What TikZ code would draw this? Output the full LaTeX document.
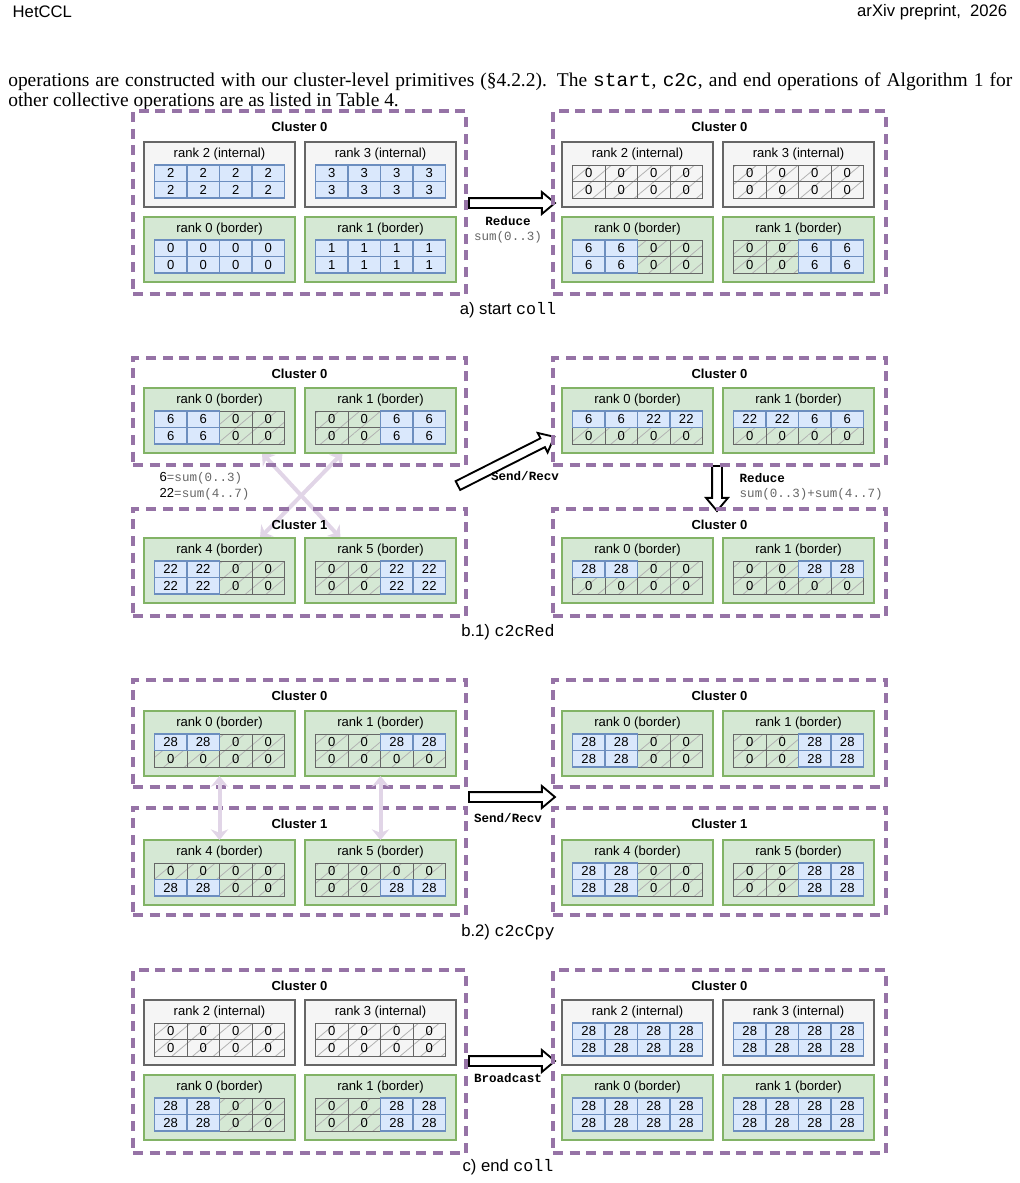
\documentclass[tikz,border=0pt]{standalone}
\usepackage{fontspec}
\setmainfont{Liberation Serif}
\setsansfont{Liberation Sans}
\setmonofont{Liberation Mono}
\usetikzlibrary{arrows.meta,calc,shapes.arrows,patterns.meta,backgrounds}
\definecolor{cluline}{HTML}{9673A6}
\definecolor{ingray}{HTML}{666666}
\definecolor{inbg}{HTML}{F5F5F5}
\definecolor{bdgreen}{HTML}{82B366}
\definecolor{bdbg}{HTML}{D5E8D4}
\definecolor{cellblue}{HTML}{6C8EBF}
\definecolor{cellbg}{HTML}{DAE8FC}
\definecolor{xferpurple}{HTML}{E1D5E7}
\def\pxu{0.75pt}
\def\zz{z}
% one row of four buffer cells, z = empty (hatched 0)
\newcommand{\cellrow}[4]{%
  \foreach \val [count=\cn] in {#4}{%
    \edef\cval{\val}%
    \ifx\cval\zz
      \if z#3\node[zcell] (#1-#2\cn) at ($(#1.north west)+(32.5*\cn-5.75,16.5*#2+14.75)$) {0};\fi
    \else
      \if b#3\node[bcell] (#1-#2\cn) at ($(#1.north west)+(32.5*\cn-5.75,16.5*#2+14.75)$) {\val};\fi
    \fi}}
% rank box with title and 2x4 buffer
\newcommand{\rk}[6]{%
  \node[#2] (#1) at #3 {};
  \node[rlbl] (#1-t) at ($(#1.north)+(0,12)$) {#4};
  \cellrow{#1}{1}{z}{#5}\cellrow{#1}{2}{z}{#6}%
  \cellrow{#1}{1}{b}{#5}\cellrow{#1}{2}{b}{#6}}
% dashed cluster frame with title
\newcommand{\clu}[4]{%
  \node[#2] (#1) at #3 {};
  \node[cltitle] (#1-t) at ($(#1.north)+(0,15.5)$) {#4};}
\tikzset{
  clu/.style    ={draw=cluline, dash pattern=on 7.5pt off 5pt, line width=2.4pt,
                  minimum width=333*\pxu, inner sep=0pt, outer sep=0pt,
                  anchor=north west},
  cluT/.style   ={clu, minimum height=183*\pxu},
  cluS/.style   ={clu, minimum height=107*\pxu},
  cltitle/.style={font=\sffamily\bfseries\fontsize{9.8}{11}\selectfont},
  rbox/.style   ={line width=1.5pt, minimum width=151*\pxu,
                  minimum height=65*\pxu, inner sep=0pt, outer sep=0pt,
                  anchor=north west},
  inbox/.style  ={rbox, draw=ingray, fill=inbg},
  bdbox/.style  ={rbox, draw=bdgreen, fill=bdbg},
  rlbl/.style   ={font=\sffamily\fontsize{9.8}{11}\selectfont},
  cell/.style   ={minimum width=32.5*\pxu, minimum height=16.5*\pxu,
                  inner sep=0pt, outer sep=0pt,
                  font=\sffamily\fontsize{9.8}{11}\selectfont},
  bcell/.style  ={cell, draw=cellblue, fill=cellbg, line width=1.3pt},
  zcell/.style  ={cell, draw=ingray, line width=0.7pt,
                  pattern={Lines[angle=40,distance=10pt,line width=0.6pt]},
                  pattern color=black!30},
  fatarr/.style ={single arrow, draw=black, fill=white, line width=1.4pt,
                  inner xsep=0pt, inner ysep=3pt, outer sep=0pt,
                  single arrow head extend=4.5pt, single arrow tip angle=80},
  xfer/.style   ={{Stealth[length=8pt,width=13pt]}-{Stealth[length=8pt,width=13pt]},
                  line width=3pt, xferpurple},
  oplbl/.style  ={font=\ttfamily\bfseries\fontsize{9.4}{11}\selectfont},
  sumlbl/.style ={font=\ttfamily\fontsize{9.4}{11}\selectfont, text=black!60},
  notelbl/.style={font=\sffamily\fontsize{9.8}{11}\selectfont},
  capt/.style   ={font=\sffamily\fontsize{12.5}{14}\selectfont},
  hdr/.style    ={font=\sffamily\fontsize{12.5}{14}\selectfont},
  para/.style   ={font=\fontsize{14.6}{12.4}\selectfont, text width=1004*\pxu,
                  align=justify, inner sep=0pt},
}
\begin{document}
\begin{tikzpicture}[x=0.75pt,y=-0.75pt]
  \useasboundingbox (0,0) rectangle (1020,1183);
  % ---- page header and running text
  \node[hdr, anchor=west] (hl) at (8,12) {HetCCL};
  \node[hdr, anchor=east] (hr) at (1012,12) {arXiv preprint,\ \ 2026};
  \node[para, anchor=north west] (par) at (8,73)
    {operations are constructed with our cluster-level primitives (§4.2.2).
     The \texttt{start}, \texttt{c2c}, and end operations of Algorithm 1
     for\linebreak other collective operations are as listed in Table 4.};
  % ---- a) start coll
  \node[fatarr, minimum height=86*\pxu] (aArr) at (509,203) {};
  \node[oplbl] (aOp) at (508,221) {Reduce};
  \node[sumlbl] (aSum) at (508,237) {sum(0..3)};
  \clu{aL}{cluT}{(133,111)}{Cluster 0}
  \rk{aL2}{inbox}{(144,142)}{rank 2 (internal)}{2,2,2,2}{2,2,2,2}
  \rk{aL3}{inbox}{(305,142)}{rank 3 (internal)}{3,3,3,3}{3,3,3,3}
  \rk{aL0}{bdbox}{(144,217)}{rank 0 (border)}{0,0,0,0}{0,0,0,0}
  \rk{aL1}{bdbox}{(305,217)}{rank 1 (border)}{1,1,1,1}{1,1,1,1}
  \clu{aR}{cluT}{(553,111)}{Cluster 0}
  \rk{aR2}{inbox}{(562,142)}{rank 2 (internal)}{z,z,z,z}{z,z,z,z}
  \rk{aR3}{inbox}{(723,142)}{rank 3 (internal)}{z,z,z,z}{z,z,z,z}
  \rk{aR0}{bdbox}{(562,217)}{rank 0 (border)}{6,6,z,z}{6,6,z,z}
  \rk{aR1}{bdbox}{(723,217)}{rank 1 (border)}{z,z,6,6}{z,z,6,6}
  \node[capt] (aCap) at (508,310) {a) start \texttt{coll}};
  % ---- b.1) c2cRed
  \node[fatarr, minimum height=108*\pxu, rotate=26.8] (b1Arr) at (503.5,462.5) {};
  \node[oplbl] (b1Op) at (525,476) {Send/Recv};
  \node[fatarr, minimum height=45*\pxu, rotate=-90] (b1Red) at (717,485.5) {};
  \node[oplbl, anchor=west] (b1Op2) at (735,478) {Reduce};
  \node[sumlbl, anchor=west] (b1Sum) at (735,494) {sum(0..3)+sum(4..7)};
  \clu{b1L}{cluS}{(133,358)}{Cluster 0}
  \rk{b1L0}{bdbox}{(144,388)}{rank 0 (border)}{6,6,z,z}{6,6,z,z}
  \rk{b1L1}{bdbox}{(305,388)}{rank 1 (border)}{z,z,6,6}{z,z,6,6}
  \clu{b1D}{cluS}{(133,509)}{Cluster 1}
  \rk{b1D4}{bdbox}{(144,538)}{rank 4 (border)}{22,22,z,z}{22,22,z,z}
  \rk{b1D5}{bdbox}{(305,538)}{rank 5 (border)}{z,z,22,22}{z,z,22,22}
  \clu{b1R}{cluS}{(553,358)}{Cluster 0}
  \rk{b1R0}{bdbox}{(562,388)}{rank 0 (border)}{6,6,22,22}{z,z,z,z}
  \rk{b1R1}{bdbox}{(723,388)}{rank 1 (border)}{22,22,6,6}{z,z,z,z}
  \clu{b1S}{cluS}{(553,509)}{Cluster 0}
  \rk{b1S0}{bdbox}{(562,538)}{rank 0 (border)}{28,28,z,z}{z,z,z,z}
  \rk{b1S1}{bdbox}{(723,538)}{rank 1 (border)}{z,z,28,28}{z,z,z,z}
  \begin{pgfonlayer}{background}
  \draw[xfer] ([xshift=42.5*\pxu]b1L0.south) -- ([xshift=-40*\pxu]b1D5.north);
  \draw[xfer] ([xshift=-38*\pxu]b1L1.south) -- ([xshift=40.5*\pxu]b1D4.north);
  \end{pgfonlayer}
  \node[notelbl, anchor=west] (b1n6) at (155,478)
    {6\textcolor{black!60}{\ttfamily\fontsize{9.4}{11}\selectfont=sum(0..3)}};
  \node[notelbl, anchor=west] (b1n22) at (155,494)
    {22\textcolor{black!60}{\ttfamily\fontsize{9.4}{11}\selectfont=sum(4..7)}};
  \node[capt] (b1Cap) at (508,632) {b.1) \texttt{c2cRed}};
  % ---- b.2) c2cCpy
  \node[fatarr, minimum height=86*\pxu] (b2Arr) at (509,797) {};
  \node[oplbl] (b2Op) at (508,818) {Send/Recv};
  \clu{b2L}{cluS}{(133,680)}{Cluster 0}
  \rk{b2L0}{bdbox}{(144,711)}{rank 0 (border)}{28,28,z,z}{z,z,z,z}
  \rk{b2L1}{bdbox}{(305,711)}{rank 1 (border)}{z,z,28,28}{z,z,z,z}
  \clu{b2D}{cluS}{(133,808)}{Cluster 1}
  \rk{b2D4}{bdbox}{(144,840)}{rank 4 (border)}{z,z,z,z}{28,28,z,z}
  \rk{b2D5}{bdbox}{(305,840)}{rank 5 (border)}{z,z,z,z}{z,z,28,28}
  \clu{b2R}{cluS}{(553,680)}{Cluster 0}
  \rk{b2R0}{bdbox}{(562,711)}{rank 0 (border)}{28,28,z,z}{28,28,z,z}
  \rk{b2R1}{bdbox}{(723,711)}{rank 1 (border)}{z,z,28,28}{z,z,28,28}
  \clu{b2S}{cluS}{(553,808)}{Cluster 1}
  \rk{b2S4}{bdbox}{(562,840)}{rank 4 (border)}{28,28,z,z}{28,28,z,z}
  \rk{b2S5}{bdbox}{(723,840)}{rank 5 (border)}{z,z,28,28}{z,z,28,28}
  \draw[xfer] (b2L0.south) -- (b2D4.north);
  \draw[xfer] (b2L1.south) -- (b2D5.north);
  \node[capt] (b2Cap) at (508,932) {b.2) \texttt{c2cCpy}};
  % ---- c) end coll
  \node[fatarr, minimum height=86*\pxu] (cArr) at (509,1061) {};
  \node[oplbl] (cOp) at (508,1078) {Broadcast};
  \clu{cL}{cluT}{(133,970)}{Cluster 0}
  \rk{cL2}{inbox}{(144,1000)}{rank 2 (internal)}{z,z,z,z}{z,z,z,z}
  \rk{cL3}{inbox}{(305,1000)}{rank 3 (internal)}{z,z,z,z}{z,z,z,z}
  \rk{cL0}{bdbox}{(144,1075)}{rank 0 (border)}{28,28,z,z}{28,28,z,z}
  \rk{cL1}{bdbox}{(305,1075)}{rank 1 (border)}{z,z,28,28}{z,z,28,28}
  \clu{cR}{cluT}{(553,970)}{Cluster 0}
  \rk{cR2}{inbox}{(562,1000)}{rank 2 (internal)}{28,28,28,28}{28,28,28,28}
  \rk{cR3}{inbox}{(723,1000)}{rank 3 (internal)}{28,28,28,28}{28,28,28,28}
  \rk{cR0}{bdbox}{(562,1075)}{rank 0 (border)}{28,28,28,28}{28,28,28,28}
  \rk{cR1}{bdbox}{(723,1075)}{rank 1 (border)}{28,28,28,28}{28,28,28,28}
  \node[capt] (cCap) at (508,1167) {c) end \texttt{coll}};
\end{tikzpicture}
\end{document}
